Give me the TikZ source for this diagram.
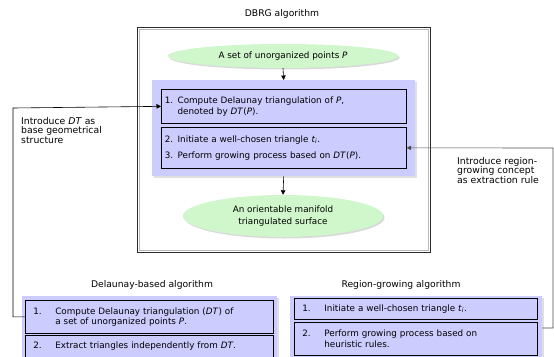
\documentclass[tikz,border=0pt]{standalone}
\usepackage{fontspec}
\setmainfont{DejaVu Sans}
\usetikzlibrary{arrows.meta,shadows,calc,shapes.geometric}
\definecolor{lav}{RGB}{204,204,255}
\definecolor{mint}{RGB}{208,246,204}
\newcommand{\numl}[1]{\hspace*{6pt}\makebox[22pt][l]{#1}}
\tikzset{
  x=1pt,y=-1pt,
  every node/.style={font=\fontsize{8.8}{10.5}\selectfont},
  titletext/.style={font=\fontsize{9.2}{10}\selectfont},
  bigframe/.style={draw=gray!55,line width=1.8pt},
  frameedge/.style={draw=gray!35!black,line width=0.5pt},
  panel/.style={fill=lav,draw=none,drop shadow={shadow xshift=1.5pt,shadow yshift=-1.5pt,opacity=0.25}},
  stepbox/.style={draw=black,line width=0.7pt,fill=lav,inner sep=0pt,anchor=north west,align=left},
  oval/.style={ellipse,fill=mint,draw=none,drop shadow={shadow xshift=1.5pt,shadow yshift=-1.5pt,opacity=0.3},align=center},
  conn/.style={draw=black,line width=0.6pt},
  arr/.style={-{Triangle[length=4.5pt,width=4.5pt]}},
  note/.style={align=left,anchor=north west,inner sep=0pt,font=\fontsize{9.3}{9.6}\selectfont}
}
\begin{document}
\begin{tikzpicture}
\useasboundingbox (0,0) rectangle (554,356);
\clip (0,0) rectangle (554,356);
% DBRG
\node[titletext] (dbrgt) at (282,14) {DBRG algorithm};
\node[bigframe,minimum width=289,minimum height=221,anchor=north west,inner sep=0pt] (frame) at (138.5,28.5) {};
\draw[frameedge] ($(frame.north west)+(-1,-1)$) rectangle ($(frame.south east)+(1,1)$);
\node[oval,minimum width=230,minimum height=24] (pts) at (283,56) {A set of unorganized points \textit{P}};
\node[panel,minimum width=263,minimum height=96,anchor=north west,inner sep=0pt] (pan) at (152,80) {};
\node[stepbox,minimum width=245,minimum height=34,text width=240] (b1) at (161,89)
  {\hspace*{1pt}1. Compute Delaunay triangulation of \textit{P},\\[1pt]\hspace*{1pt}\phantom{1. }denoted by \textit{DT}(\textit{P}).};
\node[stepbox,minimum width=245,minimum height=41,text width=240] (b2) at (161,127)
  {\hspace*{1pt}2. Initiate a well-chosen triangle \textit{t}\textsubscript{\textit{i}}.\\[6pt]\hspace*{1pt}3. Perform growing process based on \textit{DT}(\textit{P}).};
\node[oval,minimum width=200,minimum height=42] (surf) at (283,216) {An orientable manifold\\[1pt]triangulated surface};
\draw[conn,arr] (pts.south) -- (pan.north);
\draw[conn,arr] (pan.south) -- (surf.north);
% notes
\node[note] (n1) at (21,117) {Introduce \textit{DT} as\\base geometrical\\structure};
\node[note] (n2) at (457,157) {Introduce region-\\growing concept\\as extraction rule};
% Delaunay-based
\node[titletext] (dbt) at (152,285) {Delaunay-based algorithm};
\node[panel,minimum width=255,minimum height=70,anchor=north west,inner sep=0pt] (dpan) at (22,296) {};
\node[stepbox,minimum width=248,minimum height=33,text width=244] (d1) at (25,300)
  {\numl{1.}Compute Delaunay triangulation (\textit{DT}) of\\[0pt]\numl{}a set of unorganized points \textit{P}.};
\node[stepbox,minimum width=248,minimum height=22,text width=244] (d2) at (25,335)
  {\numl{2.}Extract triangles independently from \textit{DT}.};
% Region-growing
\node[titletext] (rgt) at (401,285) {Region-growing algorithm};
\node[panel,minimum width=252,minimum height=70,anchor=north west,inner sep=0pt] (rpan) at (290,296) {};
\node[stepbox,minimum width=243,minimum height=21,text width=239] (r1) at (294,298)
  {\numl{1.}Initiate a well-chosen triangle \textit{t}\textsubscript{\textit{i}}.};
\node[stepbox,minimum width=243,minimum height=33,text width=239] (r2) at (294,322)
  {\numl{2.}Perform growing process based on\\[0pt]\numl{}heuristic rules.};
% connectors
\coordinate (lc) at (13,108);
\coordinate (rc) at (553,148);
\draw[conn,arr] (d1.west) -| (lc) -- (b1.west);
\draw[conn,draw=black!70,arr] (rpan.east |- 0,328) -| (rc) -- (b2.east);
\end{tikzpicture}
\end{document}
